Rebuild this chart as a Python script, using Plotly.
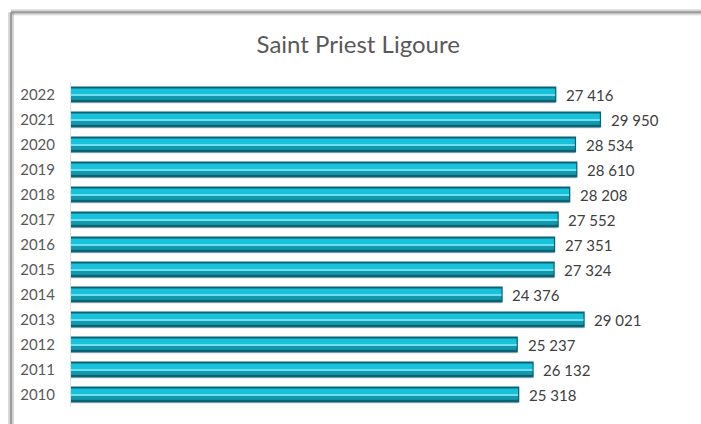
import plotly.graph_objects as go

years = ["2010", "2011", "2012", "2013", "2014", "2015", "2016",
         "2017", "2018", "2019", "2020", "2021", "2022"]
values = [25318, 26132, 25237, 29021, 24376, 27324, 27351,
          27552, 28208, 28610, 28534, 29950, 27416]
labels = [f"{v:,}".replace(",", " ") for v in values]

title_text = "Saint Priest Ligoure"
FONT = "Lato, Open Sans, sans-serif"

fig = go.Figure()

# layered bars to imitate the bevelled 3D look
layers = [
    # (offset, width, colour, line width, line colour)
    (-0.36, 0.54, "rgba(100,100,100,0.22)", 0, None),   # soft shadow
    (-0.27, 0.54, "#0b6f7f", 2.5, "#0a6272"),            # dark rim / end cap
    (-0.21, 0.20, "#1399ae", 0, None),                    # lower body
    (-0.02, 0.26, "#19c2db", 0, None),                    # upper body
    (-0.05, 0.05, "#6fdff0", 0, None),                    # highlight strip
]
for off, w, col, lw, lc in layers:
    fig.add_trace(go.Bar(
        x=values, y=years, orientation="h",
        offset=off, width=w,
        marker=dict(color=col,
                    line=dict(width=lw, color=lc if lc else col)),
        hoverinfo="skip", showlegend=False,
    ))

# value labels (category axis: annotations use the category index)
annotations = [
    dict(x=v, y=i, text=t, xref="x", yref="y", showarrow=False,
         xanchor="left", yanchor="middle", xshift=9,
         font=dict(family=FONT, size=15, color="#404040"))
    for i, (v, t) in enumerate(zip(values, labels))
]

fig.update_layout(
    width=701, height=424,
    paper_bgcolor="white", plot_bgcolor="white",
    barmode="overlay",
    margin=dict(l=71, r=12, t=82, b=17, autoexpand=False),
    title=dict(text=title_text, x=0.511, xanchor="center",
               y=0.894, yanchor="middle",
               font=dict(family=FONT, size=24, color="#595959")),
    xaxis=dict(range=[0, 35000], visible=False, showgrid=False,
               zeroline=False),
    yaxis=dict(type="category", categoryorder="array", categoryarray=years,
               range=[-0.5, len(years) - 0.5],
               showgrid=False, zeroline=False, showline=True,
               linecolor="#e0e0e0", linewidth=1, ticks="",
               ticklabelstandoff=12, automargin=False,
               tickfont=dict(family=FONT, size=15, color="#595959")),
    annotations=annotations,
    shapes=[
        # frame border with a little shadow (top and left)
        dict(type="line", xref="paper", yref="paper",
             x0=-0.097, x1=1.02, y0=1.215, y1=1.215,
             line=dict(color="rgba(120,120,120,0.3)", width=6)),
        dict(type="line", xref="paper", yref="paper",
             x0=-0.097, x1=1.02, y0=1.215, y1=1.215,
             line=dict(color="#9a9a9a", width=2)),
        dict(type="line", xref="paper", yref="paper",
             x0=-0.097, x1=-0.097, y0=1.215, y1=-0.06,
             line=dict(color="rgba(120,120,120,0.3)", width=6)),
        dict(type="line", xref="paper", yref="paper",
             x0=-0.097, x1=-0.097, y0=1.215, y1=-0.06,
             line=dict(color="#9a9a9a", width=2)),
    ],
)

fig.write_html("out.html", config={"displayModeBar": False},
               post_script="document.body.style.margin='0';")
